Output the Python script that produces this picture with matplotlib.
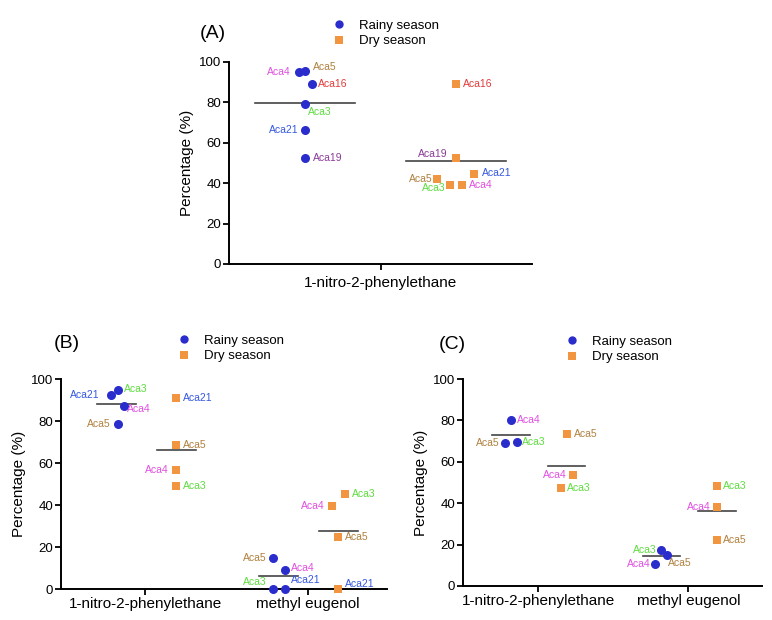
import matplotlib
matplotlib.use("Agg")
import matplotlib.pyplot as plt
from matplotlib.lines import Line2D

plt.rcParams['font.family'] = ['Liberation Sans', 'DejaVu Sans']

# ---------------- data ----------------
seasons = ["Rainy season", "Dry season"]

# Panel A : 1-nitro-2-phenylethane
a_categories = ["1-nitro-2-phenylethane"]
a_rainy_names = ["Aca4", "Aca5", "Aca16", "Aca3", "Aca21", "Aca19"]
a_rainy_vals = [95.0, 95.5, 89.0, 79.0, 66.5, 52.5]
a_dry_names = ["Aca16", "Aca19", "Aca21", "Aca5", "Aca3", "Aca4"]
a_dry_vals = [89.0, 52.5, 44.8, 42.0, 39.0, 39.3]

# Panel B
b_categories = ["1-nitro-2-phenylethane", "methyl eugenol"]
b_rainy_names = [["Aca21", "Aca3", "Aca4", "Aca5"], ["Aca5", "Aca4", "Aca3", "Aca21"]]
b_rainy_vals = [[92.4, 94.6, 87.1, 78.4], [14.9, 9.0, 0.0, 0.0]]
b_dry_names = [["Aca21", "Aca5", "Aca4", "Aca3"], ["Aca3", "Aca4", "Aca5", "Aca21"]]
b_dry_vals = [[90.8, 68.4, 56.5, 48.9], [45.4, 39.7, 24.8, 0.0]]

# Panel C
c_categories = ["1-nitro-2-phenylethane", "methyl eugenol"]
c_rainy_names = [["Aca4", "Aca5", "Aca3"], ["Aca3", "Aca5", "Aca4"]]
c_rainy_vals = [[80.0, 69.2, 69.8], [17.6, 15.2, 10.5]]
c_dry_names = [["Aca5", "Aca4", "Aca3"], ["Aca3", "Aca4", "Aca5"]]
c_dry_vals = [[73.5, 53.4, 47.4], [48.5, 38.2, 22.1]]

y_ticks = [0, 20, 40, 60, 80, 100]

# ---------------- layout / style ----------------
name_colors = {"Aca4": "#e050e0", "Aca5": "#b0803e", "Aca16": "#e23a3a",
               "Aca3": "#5fdc3f", "Aca21": "#3558e0", "Aca19": "#8c3a98"}
rainy_color = "#2a2ccc"
dry_color = "#f19540"

# jitter (x) and label offsets (dx px, dy px) per point
a_rainy_jit = [-0.04, 0.0, 0.045, 0.0, 0.0, 0.0]
a_rainy_lab = [(-8, 0), (8, 4), (6, 0), (3, -8), (-6, 0), (8, 0)]
a_dry_jit = [0.0, 0.0, 0.115, -0.125, -0.04, 0.04]
a_dry_lab = [(7, 0), (-9, 4), (8, 1), (-5, 0), (-5, -3), (7, 0)]

b_rainy_jit = [[-0.03, 0.01, 0.05, 0.01], [-0.035, 0.04, -0.035, 0.04]]
b_rainy_lab = [[(-12, 0), (6, 1), (3, -3), (-7, 0)], [(-6, 0), (6, 2), (-6, 7), (6, 9)]]
b_dry_jit = [[0, 0, 0, 0], [0.04, -0.04, 0, 0]]
b_dry_lab = [[(7, 0), (7, 0), (-8, 0), (7, 0)], [(7, 0), (-7, 0), (7, 0), (7, 5)]]

c_rainy_jit = [[0.0, -0.04, 0.04], [0.0, 0.035, -0.04]]
c_rainy_lab = [[(6, 0), (-5, 0), (5, 0)], [(-5, 0), (1, -8), (-5, 0)]]
c_dry_jit = [[0.0, 0.04, -0.04], [0, 0, 0]]
c_dry_lab = [[(7, 0), (-6, 0), (6, 0)], [(6, 0), (-6, 0), (6, 0)]]

fig = plt.figure(figsize=(7.72, 6.2), dpi=100)


def style_axes(ax, xlim, categories, xticks, pad):
    ax.set_xlim(*xlim)
    ax.set_ylim(0, 100)
    ax.set_yticks(y_ticks)
    ax.set_xticks(xticks)
    ax.set_xticklabels(categories, fontsize=11)
    ax.tick_params(axis='y', labelsize=9.5, length=4, width=1.3, pad=1.5)
    ax.tick_params(axis='x', length=4, width=1.3, pad=pad)
    for s in ["top", "right"]:
        ax.spines[s].set_visible(False)
    for s in ["left", "bottom"]:
        ax.spines[s].set_linewidth(1.4)
    ax.set_ylabel("Percentage (%)", fontsize=11, labelpad=4)


def plot_group(ax, x0, names, vals, jit, labs, marker, color, ms, half):
    xs = [x0 + j for j in jit]
    ax.plot(xs, vals, linestyle='none', marker=marker, color=color,
            markersize=ms, markeredgewidth=0, clip_on=False, zorder=3)
    mean = sum(vals) / len(vals)
    ax.plot([x0 - half, x0 + half], [mean, mean], color="#444444", lw=1.2, zorder=2)
    for n, x, v, (dx, dy) in zip(names, xs, vals, labs):
        ha = 'left' if dx > 0 else 'right'
        ax.annotate(n, (x, v), xytext=(dx, dy), textcoords='offset pixels',
                    ha=ha, va='center', fontsize=7.5, color=name_colors[n],
                    annotation_clip=False)


def add_legend(ax, x, y):
    handles = [Line2D([], [], linestyle='none', marker='o', color=rainy_color, markersize=6, markeredgewidth=0),
               Line2D([], [], linestyle='none', marker='s', color=dry_color, markersize=5.5, markeredgewidth=0)]
    ax.legend(handles, seasons, loc='upper left', bbox_to_anchor=(x, y),
              bbox_transform=fig.transFigure, frameon=False, fontsize=9.5,
              handlelength=1.0, handletextpad=1.0, labelspacing=0.25, borderpad=0)


# ---- Panel A ----
axA = fig.add_axes([229 / 772, 1 - 264 / 620, 303 / 772, 202 / 620])
style_axes(axA, (-1, 1), a_categories, [0], 5)
plot_group(axA, -0.5, a_rainy_names, a_rainy_vals, a_rainy_jit, a_rainy_lab, 'o', rainy_color, 6.5, 0.33)
plot_group(axA, 0.5, a_dry_names, a_dry_vals, a_dry_jit, a_dry_lab, 's', dry_color, 6, 0.33)
add_legend(axA, 326 / 772, 1 - 13 / 620)
fig.text(213 / 772, 1 - 33 / 620, "(A)", fontsize=14, ha='center', va='center')

# ---- Panel B ----
axB = fig.add_axes([61 / 772, 1 - 589 / 620, 326 / 772, 210 / 620])
style_axes(axB, (-0.52, 1.49), b_categories, [0, 1], 1.5)
for i in range(2):
    plot_group(axB, i - 0.18, b_rainy_names[i], b_rainy_vals[i], b_rainy_jit[i], b_rainy_lab[i], 'o', rainy_color, 6.5, 0.12)
    plot_group(axB, i + 0.19, b_dry_names[i], b_dry_vals[i], b_dry_jit[i], b_dry_lab[i], 's', dry_color, 6, 0.12)
add_legend(axB, 171 / 772, 1 - 328 / 620)
fig.text(67 / 772, 1 - 344 / 620, "(B)", fontsize=14, ha='center', va='center')

# ---- Panel C ----
axC = fig.add_axes([463 / 772, 1 - 586 / 620, 299 / 772, 207 / 620])
style_axes(axC, (-0.5, 1.49), c_categories, [0, 1], 1.5)
for i in range(2):
    plot_group(axC, i - 0.18, c_rainy_names[i], c_rainy_vals[i], c_rainy_jit[i], c_rainy_lab[i], 'o', rainy_color, 6.5, 0.125)
    plot_group(axC, i + 0.19, c_dry_names[i], c_dry_vals[i], c_dry_jit[i], c_dry_lab[i], 's', dry_color, 6, 0.125)
add_legend(axC, 559 / 772, 1 - 329 / 620)
fig.text(452 / 772, 1 - 345 / 620, "(C)", fontsize=14, ha='center', va='center')

fig.savefig("out.png", dpi=100)
